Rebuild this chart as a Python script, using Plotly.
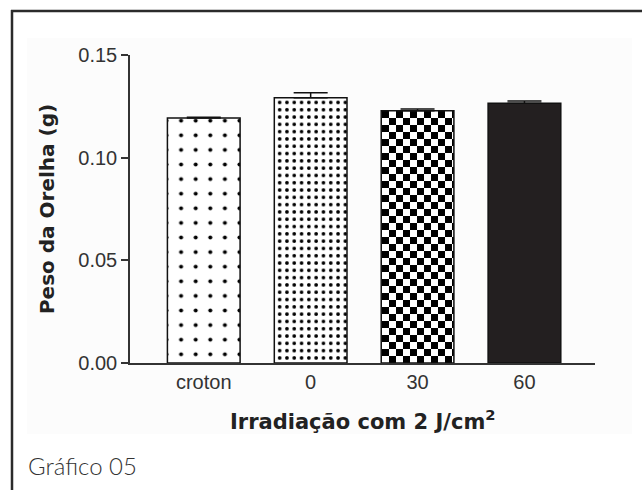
import plotly.graph_objects as go

categories = ["croton", "0", "30", "60"]
values = [0.1193, 0.1292, 0.1229, 0.1265]
errors = [0.0004, 0.0024, 0.0008, 0.0011]
y_ticks = [0.0, 0.05, 0.10, 0.15]
y_tick_labels = ["0.00", "0.05", "0.10", "0.15"]

styles = [
    dict(shape=".", size=14.6, solidity=0.06, fgcolor="#000", bgcolor="white", fgopacity=1),
    dict(shape=".", size=7.3, solidity=0.2, fgcolor="#000", bgcolor="white", fgopacity=1),
    dict(path="M0,0H7V7H0Z M7,7H14V14H7Z", size=14, fgcolor="#000", bgcolor="white", fgopacity=1),
    None,
]

fig = go.Figure()
for cat, val, err, st in zip(categories, values, errors, styles):
    if st is None:
        marker = dict(color="#231f20", line=dict(color="#111", width=1.5))
    else:
        marker = dict(color="white", pattern=st, line=dict(color="#111", width=1.5))
    fig.add_trace(go.Bar(
        x=[cat], y=[val], width=0.68, marker=marker, opacity=1,
        error_y=dict(type="data", array=[err], arrayminus=[0], symmetric=False,
                     color="#111", thickness=1.5, width=17),
        showlegend=False,
    ))

L, R, T, B = 130, 47, 55, 127
W, H = 642, 490
pw, ph = W - L - R, H - T - B

def px(x):
    return (x - L) / pw

def py(y):
    return (H - B - y) / ph

fig.update_layout(
    width=W, height=H,
    margin=dict(l=L, r=R, t=T, b=B),
    paper_bgcolor="white", plot_bgcolor="rgba(0,0,0,0)",
    barmode="overlay",
    font=dict(family="Liberation Sans", color="#333"),
    shapes=[
        dict(type="rect", xref="paper", yref="paper", x0=px(27), x1=px(632), y0=py(434), y1=py(38),
             fillcolor="#fcfcfc", line=dict(width=0), layer="below"),
        dict(type="line", xref="paper", yref="paper", x0=px(12), x1=px(12), y0=py(10), y1=py(500),
             line=dict(color="#2b2b2b", width=2.5)),
        dict(type="line", xref="paper", yref="paper", x0=px(11), x1=px(650), y0=py(11), y1=py(11),
             line=dict(color="#2b2b2b", width=2.5)),
    ],
    annotations=[
        dict(text="Gráfico 05", xref="paper", yref="paper", x=px(26), y=py(466),
             xanchor="left", yanchor="middle", showarrow=False,
             font=dict(family="Lato", size=24, color="#333", weight=300)),
        dict(text="Irradiação com 2 J/cm<sup>2</sup>", xref="paper", yref="paper", x=px(363), y=py(420),
             xanchor="center", yanchor="middle", showarrow=False,
             font=dict(family="DejaVu Sans", size=21, color="#222", weight="bold")),
    ],
)

fig.update_xaxes(
    type="category", range=[-0.69, 3.66], showline=True, linecolor="#333", linewidth=1.5,
    ticks="", showgrid=False, zeroline=False,
    tickfont=dict(size=20, color="#333"),
)
fig.update_yaxes(
    range=[0, 0.15], tickvals=y_ticks, ticktext=y_tick_labels, showline=True, linecolor="#333", linewidth=1.5,
    ticks="outside", ticklen=7, tickwidth=1.5, tickcolor="#333", showgrid=False, zeroline=False,
    tickfont=dict(size=20, color="#333"),
    title=dict(text="Peso da Orelha (g)", font=dict(family="DejaVu Sans", size=20, color="#222", weight="bold"), standoff=18),
)

fig.write_html("out.html")
